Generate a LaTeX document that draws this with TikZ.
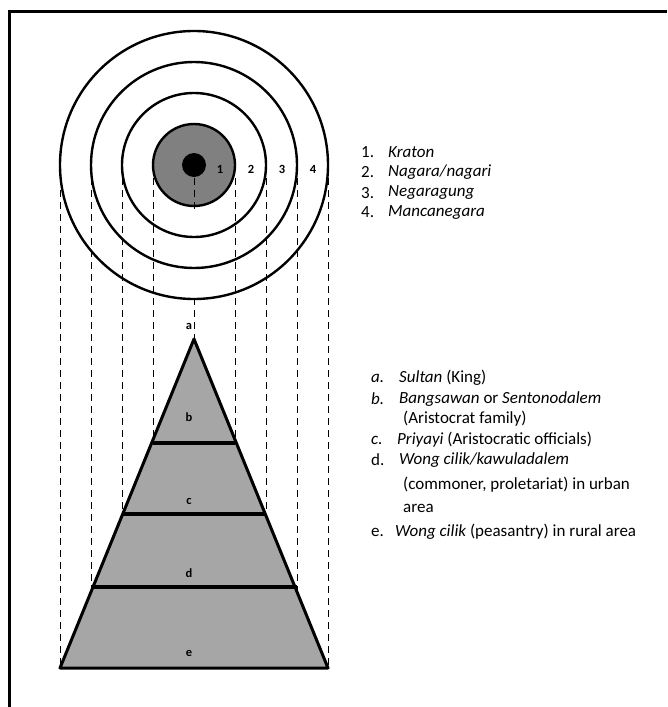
\documentclass[tikz,border=0pt]{standalone}
\usepackage{fontspec}
\setmainfont{Carlito}
\usetikzlibrary{positioning}
\definecolor{coregray}{RGB}{128,128,128}
\definecolor{pyrgray}{RGB}{166,166,166}
\tikzset{
  ring/.style={line width=2.4pt},
  proj/.style={line width=1pt, dash pattern=on 7pt off 5pt},
  layer/.style={line width=4pt},
  tag/.style={font=\fontsize{12.5}{13}\selectfont\bfseries, inner sep=0pt},
  legend/.style={font=\fontsize{17}{20}\selectfont, anchor=west, inner sep=0pt}
}
\begin{document}
\begin{tikzpicture}[x=1pt, y=-1pt]
    \useasboundingbox (0,0) rectangle (667,707);
    % Frame
    \draw[line width=3pt] (9,707) -- (9,11) -- (667,11);

    % Projection lines
    \foreach \px in {60,91,122,153,194,235,266,297,328}
        \draw[proj] (\px,178) -- (\px,668);

    % Rings
    \coordinate (ctr) at (194,165);
    \draw[ring, fill=white] (ctr) circle (134);
    \draw[ring, fill=white] (ctr) circle (103);
    \draw[ring, fill=white] (ctr) circle (72);
    \draw[ring, fill=coregray] (ctr) circle (41);
    \fill (ctr) circle (12);
    \draw[proj] (194,178) -- (194,210);
    \foreach \px in {60,91,122,153,235,266,297,328}
        \draw[proj] (\px,178) -- (\px,300);

    % Ring numbers
    \node[tag] (r1) at (220,169) {1};
    \node[tag] (r2) at (251,169) {2};
    \node[tag] (r3) at (282,169) {3};
    \node[tag] (r4) at (313,169) {4};

    % Pyramid
    \coordinate (apex) at (194,339);
    \coordinate (bl) at (60,668);
    \coordinate (br) at (328,668);
    \draw[line width=3pt, line join=round, fill=pyrgray] (apex) -- (br) -- (bl) -- cycle;
    \draw[layer] (153,443) -- (235,443);
    \draw[layer] (122,514) -- (266,514);
    \draw[layer] (91,587) -- (297,587);

    % Layer letters
    \node[tag] (la) at (189,326) {a};
    \node[tag] (lb) at (189,417) {b};
    \node[tag] (lc) at (189,501) {c};
    \node[tag] (ld) at (189,573) {d};
    \node[tag] (le) at (189,653) {e};

    % Legend of rings
    \node[legend] (n1) at (361,152) {1.};
    \node[legend] (n2) at (361,172) {2.};
    \node[legend] (n3) at (361,193) {3.};
    \node[legend] (n4) at (361,212) {4.};
    \node[legend] (t1) at (388,152) {\itshape Kraton};
    \node[legend] (t2) at (388,172) {\itshape Nagara/nagari};
    \node[legend] (t3) at (388,193) {\itshape Negaragung};
    \node[legend] (t4) at (388,212) {\itshape Mancanegara};

    % Legend of layers
    \node[legend] (na) at (371,378) {\itshape a.};
    \node[legend] (nb) at (371,399) {\itshape b.};
    \node[legend] (nc) at (371,440) {\itshape c.};
    \node[legend] (nd) at (371,460) {d.};
    \node[legend] (ne) at (371,532) {e.};
    \node[legend] (ta) at (399,378) {\itshape Sultan\upshape\ (King)};
    \node[legend] (tb) at (399,399) {\itshape Bangsawan\upshape\ or \itshape Sentonodalem};
    \node[legend] (tb2) at (403,419) {(Aristocrat family)};
    \node[legend] (tc) at (397,440) {\itshape Priyayi\upshape\ (Aristocratic officials)};
    \node[legend] (td) at (399,460) {\itshape Wong cilik/kawuladalem};
    \node[legend] (td2) at (403,485) {(commoner, proletariat) in urban};
    \node[legend] (td3) at (403,508) {area};
    \node[legend] (te) at (395,532) {\itshape Wong cilik\upshape\ (peasantry) in rural area};
\end{tikzpicture}
\end{document}
